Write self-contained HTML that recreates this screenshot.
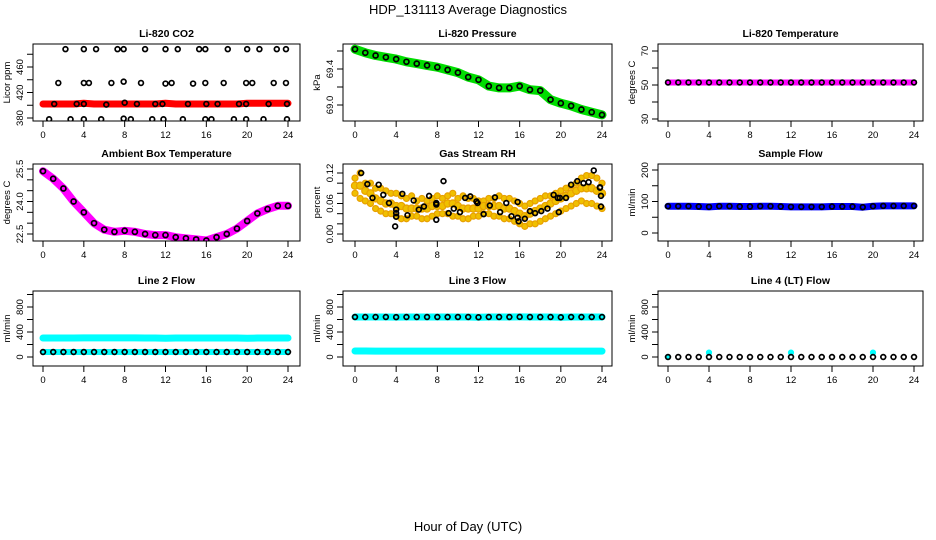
<!DOCTYPE html>
<html><head><meta charset="utf-8"><style>
body{margin:0;background:#fff;}
svg{display:block;font-family:"Liberation Sans",Arial,sans-serif;}
</style></head><body>
<svg id="chart" width="936" height="540" viewBox="0 0 936 540">
<text x="468" y="14" text-anchor="middle" font-size="13">HDP_131113  Average Diagnostics</text>
<text x="468" y="531" text-anchor="middle" font-size="13">Hour of Day (UTC)</text>
</svg>
<script>
const hours = [0,1,2,3,4,5,6,7,8,9,10,11,12,13,14,15,16,17,18,19,20,21,22,23,24];
const xTicks = [0,4,8,12,16,20,24];
// CO2
const co2Band = [402,402,402,402,403,402,402,402,402,402,402,402,403,402,402,402,402,402,402,402,403,403,403,403,403];
const co2BlackHours = [2.2,4,5.2,7.3,7.9,10,12,13.2,15.3,15.9,18.1,20,21.2,22.9,23.8, 1.5,4,4.5,6.7,7.9,9.6,12,12.6,14.7,15.9,17.7,19.9,20.5,22.6,23.8, 1.1,3.3,4,6.2,8,9.2,11,11.7,14.2,16,17.1,19.2,19.9,22.1,23.9, 0.6,2.7,4,5.7,7.9,8.6,10.7,11.8,13.7,15.9,16.5,18.7,19.9,21.6,23.9];
const co2BlackVals = [488,488,488,488,488,488,488,488,488,488,488,488,488,488,488, 435,435,435,435,437,435,434,435,434,435,435,435,435,435,435, 402,402,402,401,404,402,402,402,402,402,402,402,402,402,402, 378,378,378,378,379,378,378,378,378,378,378,378,378,378,378];
// Pressure
const pressVals = [69.62,69.58,69.55,69.53,69.51,69.48,69.46,69.44,69.42,69.39,69.36,69.31,69.28,69.21,69.19,69.19,69.21,69.17,69.16,69.06,69.02,68.99,68.95,68.92,68.89];
// Li-820 temperature
const tempVals = [51.5,51.5,51.5,51.5,51.5,51.5,51.5,51.5,51.5,51.5,51.5,51.5,51.5,51.5,51.5,51.5,51.5,51.5,51.5,51.5,51.5,51.5,51.5,51.5,51.5];
// Ambient box temperature
const ambVals = [25.4,25.05,24.6,24.0,23.5,23.0,22.7,22.6,22.65,22.6,22.5,22.45,22.45,22.35,22.3,22.25,22.2,22.35,22.5,22.75,23.1,23.45,23.65,23.8,23.8];
// RH
const rhHalfHours = [0,0.5,1,1.5,2,2.5,3,3.5,4,4.5,5,5.5,6,6.5,7,7.5,8,8.5,9,9.5,10,10.5,11,11.5,12,12.5,13,13.5,14,14.5,15,15.5,16,16.5,17,17.5,18,18.5,19,19.5,20,20.5,21,21.5,22,22.5,23,23.5,24];
const rhOrangeA = [.11,.12,.10,.10,.09,.09,.085,.08,.08,.075,.07,.075,.065,.07,.065,.07,.075,.07,.075,.08,.07,.075,.07,.07,.065,.065,.07,.07,.075,.07,.07,.065,.06,.055,.06,.065,.07,.075,.075,.08,.085,.09,.095,.10,.11,.115,.115,.11,.10];
const rhOrangeB = [.08,.07,.065,.06,.05,.045,.04,.04,.035,.03,.03,.035,.035,.03,.03,.035,.04,.04,.04,.035,.035,.03,.03,.035,.035,.04,.04,.035,.035,.03,.03,.025,.02,.015,.02,.02,.025,.03,.035,.04,.045,.05,.055,.06,.065,.06,.06,.055,.05];
const rhOrangeC = [.095,.095,.085,.08,.07,.065,.06,.06,.055,.055,.05,.05,.05,.05,.05,.055,.055,.055,.06,.06,.055,.05,.05,.05,.05,.055,.055,.055,.055,.05,.05,.045,.04,.035,.04,.045,.05,.055,.06,.065,.07,.075,.08,.085,.09,.09,.09,.085,.08];
const rhBlackHours = [0.6,1.2,1.7,2.3,2.75,3.3,4,4,4,3.9,4.6,5.1,5.7,6.2,6.7,7.2,7.9,7.9,7.9,8.6,9.1,9.6,10.2,10.7,11.2,11.8,11.9,12.5,13.1,13.6,14.1,14.7,15.2,15.8,15.8,15.9,16.5,17,17.5,18.1,18.7,19.3,19.7,19.8,19.9,20.5,21,21.6,22.2,22.7,23.2,23.8,23.8,23.9,23.9];
const rhBlackVals = [.120,.098,.071,.097,.077,.061,.048,.041,.034,.015,.079,.037,.066,.048,.054,.075,.058,.061,.028,.104,.041,.050,.043,.071,.074,.064,.061,.039,.056,.072,.043,.061,.035,.063,.032,.025,.030,.045,.041,.045,.050,.077,.071,.043,.071,.071,.097,.104,.100,.102,.125,.092,.091,.075,.054];
// Flows
const sampleVals = [85,85,85,84,83,85,85,84,84,85,85,84,83,83,83,83,84,84,84,82,85,86,86,86,86];
const line2High = [304,304,304,304,305,306,306,306,305,305,304,304,300,304,304,304,304,304,304,304,300,304,304,304,304];
const line2Low = [80,80,80,80,80,80,80,80,80,80,80,80,80,80,80,80,80,80,80,80,80,80,80,80,80];
const line3High = [640,640,640,640,638,640,640,640,640,640,640,640,636,640,640,640,642,640,640,640,636,640,640,640,640];
const line3Low = [96,96,95,95,95,95,95,95,95,95,95,95,95,95,95,95,95,95,95,95,95,95,95,95,95];
const line4Black = [0,0,0,0,0,0,0,0,0,0,0,0,0,0,0,0,0,0,0,0,0,0,0,0,0];
const line4CyanHours = [0,4,12,20];
const line4CyanVals = [0,70,70,70];

const NS = "http://www.w3.org/2000/svg";
const svg = document.getElementById('chart');
function mk(tag, attrs, parent){ const e=document.createElementNS(NS,tag); for(const k in attrs) e.setAttribute(k,attrs[k]); (parent||svg).appendChild(e); return e; }

const cols = [{l:33,r:300,x0:43,x24:288},{l:343,r:612,x0:355,x24:602},{l:658,r:923,x0:668,x24:914}];
const rows = [{t:44,b:121},{t:164,b:241},{t:291,b:366}];

function panel(ci, ri, title, ylab, yv1, yp1, yv2, yp2, ticks, labels, name){
  const c=cols[ci], r=rows[ri];
  const g = mk('g',{});
  
  
  const xs = h => c.x0 + (c.x24-c.x0)*h/24;
  const ys = v => yp1 + (v-yv1)*(yp2-yp1)/(yv2-yv1);
  const clip = mk('clipPath',{id:'clip-'+name}, g);
  mk('rect',{x:c.l,y:r.t,width:c.r-c.l,height:r.b-r.t}, clip);
  const plot = mk('g',{'clip-path':'url(#clip-'+name+')'}, g);
  
  
  const frame = mk('rect',{x:c.l,y:r.t,width:c.r-c.l,height:r.b-r.t,fill:'none',stroke:'#000','stroke-width':1}, g);
  
  
  const t = mk('text',{x:(c.l+c.r)/2,y:r.t-7,'text-anchor':'middle','font-size':10.5,'font-weight':'bold'}, g);
  t.textContent = title;
  
  
  xTicks.forEach(h=>{
    mk('line',{x1:xs(h),x2:xs(h),y1:r.b,y2:r.b+6,stroke:'#000'}, g);
    const tl = mk('text',{x:xs(h),y:r.b+17,'text-anchor':'middle','font-size':9.5}, g);
    tl.textContent = h;
    
    
  });
  ticks.forEach((v,i)=>{
    mk('line',{x1:c.l-6,x2:c.l,y1:ys(v),y2:ys(v),stroke:'#000'}, g);
    if(labels[i]!==''){
      const yl = mk('text',{x:c.l-10,y:ys(v),'text-anchor':'middle','font-size':9.5,transform:`rotate(-90 ${c.l-10} ${ys(v)})`}, g);
      yl.textContent = labels[i];
      
      
    }
  });
  const ya = mk('text',{x:c.l-23,y:(r.t+r.b)/2,'text-anchor':'middle','font-size':9.5,transform:`rotate(-90 ${c.l-23} ${(r.t+r.b)/2})`}, g);
  ya.textContent = ylab;
  
  
  return {plot, xs, ys};
}
function band(p, hs, vals, color, w, name){
  const pts = hs.map((h,i)=>p.xs(h).toFixed(1)+','+p.ys(vals[i]).toFixed(1)).join(' ');
  const pl = mk('polyline',{points:pts,fill:'none',stroke:color,'stroke-width':w,'stroke-linecap':'round','stroke-linejoin':'round'}, p.plot);
  
  
}
function circles(p, hs, vals, stroke, fill, rad, sw, name){
  hs.forEach((h,i)=>{
    const e = mk('circle',{cx:p.xs(h),cy:p.ys(vals[i]),r:rad,fill:fill,stroke:stroke,'stroke-width':sw}, p.plot);
    
    
  });
}

// Panel 1 CO2
let p = panel(0,0,'Li-820 CO2','Licor ppm',380,118,460,67,[380,400,420,440,460,480],['380','','420','','460',''],'co2');
band(p,hours,co2Band,'#f00',7,'co2-red-band');
circles(p,co2BlackHours,co2BlackVals,'#000','none',2.4,1.7,'co2-point');
// Panel 2 Pressure
p = panel(1,0,'Li-820 Pressure','kPa',69.0,105,69.4,69,[69.0,69.2,69.4,69.6],['69.0','','69.4',''],'pressure');
band(p,hours,pressVals,'#0d0',9,'pressure-green-band');
circles(p,hours,pressVals,'#000','none',2.5,1.7,'pressure-point');
// Panel 3 Temperature
p = panel(2,0,'Li-820 Temperature','degrees C',30,119,70,51,[30,40,50,60,70],['30','','50','','70'],'li820-temp');
band(p,hours,tempVals,'#f0f',6,'li820-temp-band');
circles(p,hours,tempVals,'#000','none',2.4,1.7,'li820-temp-point');
// Panel 4 Ambient
p = panel(0,1,'Ambient Box Temperature','degrees C',22.5,234,25.5,169,[22.5,23,23.5,24,24.5,25,25.5],['22.5','','','24.0','','','25.5'],'ambient-temp');
band(p,hours,ambVals,'#f0f',8,'ambient-temp-band');
circles(p,hours,ambVals,'#000','none',2.5,1.7,'ambient-temp-point');
// Panel 5 RH
p = panel(1,1,'Gas Stream RH','percent',0,234,0.12,173,[0,0.02,0.04,0.06,0.08,0.1,0.12],['0.00','','','0.06','','','0.12'],'rh');
circles(p,rhHalfHours,rhOrangeA,'#e8a000','#f0c000',3,1.2,'rh-orange-point');
circles(p,rhHalfHours,rhOrangeB,'#e8a000','#f0c000',3,1.2,'rh-orange-point');
circles(p,rhHalfHours,rhOrangeC,'#e8a000','#f0c000',3.6,1.2,'rh-orange-point');
circles(p,rhBlackHours,rhBlackVals,'#000','none',2.4,1.7,'rh-black-point');
// Panel 6 Sample flow
p = panel(2,1,'Sample Flow','ml/min',0,233,200,170,[0,50,100,150,200],['0','','100','','200'],'sample-flow');
band(p,hours,sampleVals,'#00f',7,'sample-flow-band');
circles(p,hours,sampleVals,'#000','none',2.4,1.7,'sample-flow-point');
// Panel 7 Line 2
const flowTicks=[0,200,400,600,800,1000], flowLabels=['0','','400','','800',''];
p = panel(0,2,'Line 2 Flow','ml/min',0,357,800,307,flowTicks,flowLabels,'line2-flow');
band(p,hours,line2High,'#0ff',7,'line2-high-band');
band(p,hours,line2Low,'#0ff',6,'line2-low-band');
circles(p,hours,line2Low,'#000','none',2.4,1.7,'line2-point');
// Panel 8 Line 3
p = panel(1,2,'Line 3 Flow','ml/min',0,357,800,307,flowTicks,flowLabels,'line3-flow');
band(p,hours,line3High,'#0ff',7,'line3-high-band');
band(p,hours,line3Low,'#0ff',7,'line3-low-band');
circles(p,hours,line3High,'#000','none',2.4,1.7,'line3-point');
// Panel 9 Line 4
p = panel(2,2,'Line 4 (LT) Flow','ml/min',0,357,800,307,flowTicks,flowLabels,'line4-flow');
circles(p,line4CyanHours,line4CyanVals,'#0ff','#0ff',2.6,1,'line4-cyan-point');
circles(p,hours,line4Black,'#000','none',2.4,1.7,'line4-point');
</script>
</body></html>
